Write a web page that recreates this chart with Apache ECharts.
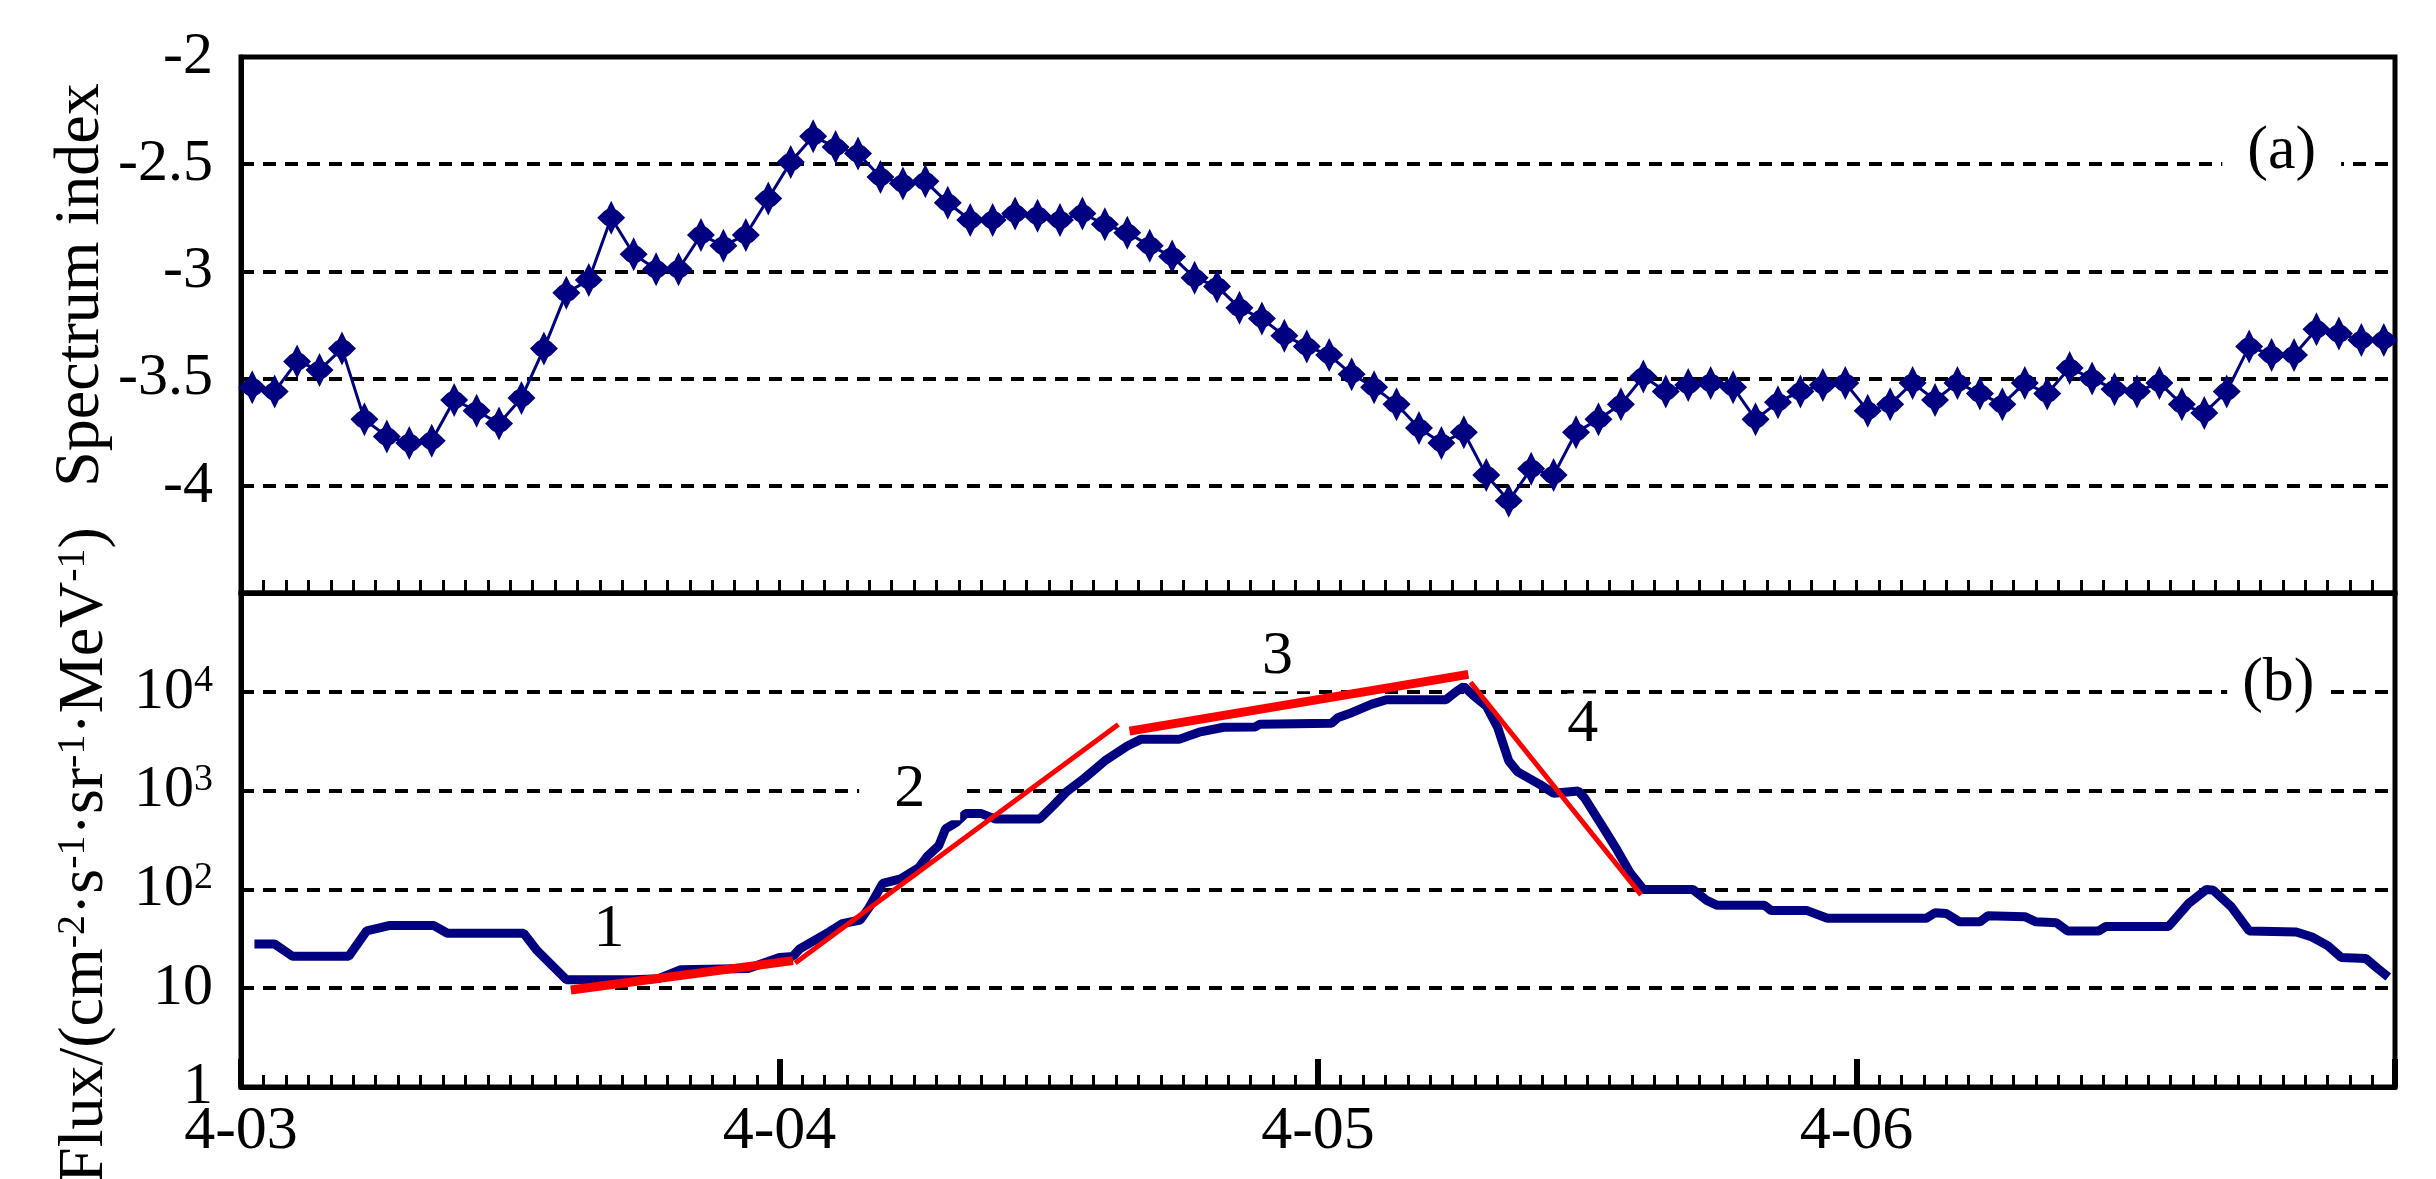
<!DOCTYPE html>
<html><head><meta charset="utf-8">
<script src="https://cdn.jsdelivr.net/npm/echarts@6/dist/echarts.min.js"></script>
<style>html,body{margin:0;padding:0;background:#fff}#c{width:2436px;height:1179px}</style>
</head><body><div id="c"></div><script>
// ---- data ----
const dayLabels = ['4-03', '4-04', '4-05', '4-06'];
const spectrumHours = [0.5,1.5,2.5,3.5,4.5,5.5,6.5,7.5,8.5,9.5,10.5,11.5,12.5,13.5,14.5,15.5,16.5,17.5,18.5,19.5,
  20.5,21.5,22.5,23.5,24.5,25.5,26.5,27.5,28.5,29.5,30.5,31.5,32.5,33.5,34.5,35.5,36.5,37.5,38.5,39.5,
  40.5,41.5,42.5,43.5,44.5,45.5,46.5,47.5,48.5,49.5,50.5,51.5,52.5,53.5,54.5,55.5,56.5,57.5,58.5,59.5,
  60.5,61.5,62.5,63.5,64.5,65.5,66.5,67.5,68.5,69.5,70.5,71.5,72.5,73.5,74.5,75.5,76.5,77.5,78.5,79.5,
  80.5,81.5,82.5,83.5,84.5,85.5,86.5,87.5,88.5,89.5,90.5,91.5,92.5,93.5,94.5,95.5];
const spectrumIndex = [-3.54,-3.56,-3.42,-3.46,-3.36,-3.69,-3.77,-3.80,-3.79,-3.60,
  -3.65,-3.71,-3.59,-3.36,-3.10,-3.04,-2.75,-2.92,-2.99,-2.99,
  -2.83,-2.88,-2.83,-2.66,-2.49,-2.37,-2.42,-2.45,-2.56,-2.59,
  -2.58,-2.68,-2.76,-2.76,-2.73,-2.74,-2.76,-2.73,-2.78,-2.82,
  -2.88,-2.93,-3.03,-3.07,-3.17,-3.22,-3.30,-3.35,-3.39,-3.48,
  -3.54,-3.62,-3.73,-3.80,-3.75,-3.95,-4.07,-3.92,-3.95,-3.75,
  -3.69,-3.62,-3.49,-3.56,-3.53,-3.52,-3.54,-3.69,-3.61,-3.56,
  -3.53,-3.52,-3.65,-3.62,-3.52,-3.60,-3.52,-3.57,-3.62,-3.52,
  -3.57,-3.45,-3.50,-3.55,-3.56,-3.52,-3.62,-3.66,-3.56,-3.35,
  -3.39,-3.39,-3.27,-3.29,-3.32,-3.32];
// flux trace: [hour since 4-03 00:00, flux]
const fluxPoints = [[0.6,28],[1.5,28],[2.3,21],[4.8,21],[5.6,38],[6.6,43],[8.6,43],[9.2,36],[12.6,36],[13.2,24],
  [14.5,12.2],[17.5,12.2],[18.6,12.5],[19.6,15.4],[22.6,15.8],[24.0,20.5],[24.6,21],[24.9,25],[25.5,30],[26.2,37],
  [26.8,45],[27.6,49],[28.0,66],[28.6,115],[29.4,128],[30.2,165],[30.6,218],[31.1,277],[31.4,410],[31.9,480],
  [32.3,585],[33.0,585],[33.6,517],[35.6,517],[36.2,705],[36.8,975],[37.6,1340],[38.5,2000],[39.5,2830],[40.1,3300],
  [41.8,3300],[42.7,3900],[43.8,4380],[45.2,4400],[45.4,4700],[48.6,4800],[48.9,5500],[49.5,6150],[50.4,7500],[51.05,8300],
  [53.7,8300],[54.15,10000],[54.5,11300],[54.9,9300],[55.5,7200],[56.0,4400],[56.5,2000],[56.9,1550],[57.9,1150],[58.5,940],
  [59.6,990],[59.9,830],[60.65,445],[61.3,257],[61.9,148],[62.5,100],[64.7,100],[65.3,78],[65.8,69],[67.9,69],
  [68.2,61],[69.8,61],[70.7,51],[75.1,51],[75.5,58],[76.0,57],[76.6,47],[77.5,47],[77.85,54],[79.5,53],
  [80.0,47],[80.9,46],[81.4,38],[82.8,38],[83.1,42],[85.9,42],[86.8,72],[87.6,100],[87.9,98],[88.7,67],
  [89.5,38],[91.6,37],[92.3,33],[93.0,27],[93.6,20.5],[94.7,20],[95.2,16],[95.7,13]];
// fitted segments (red)
const fit1 = [[14.7, 9.6], [24.6, 19]];
const fit2 = [[24.7, 18], [39.1, 4670]];
const fit3 = [[39.6, 4000], [54.7, 15000]];
const fit4 = [[54.8, 12500], [62.4, 88]];
// annotations (data coordinates)
const phaseLabels = [[16.4, 39, '1'], [29.8, 1030, '2'], [46.2, 22400, '3'], [59.8, 4680, '4'], [90.8, 12000, '(b)']];
const phasePad = [[0, 0], [0, 35], [0, 22, 6, 22], [0, 0], [0, 15]];
const panelALabel = [[90.95, -2.444, '(a)']];

// ---- chart ----
const FONT = 'Liberation Serif';
const NAVY = '#000080';
const RED = '#ff0000';
const chart = echarts.init(document.getElementById('c'));
const dash = { color: '#000', width: 4, type: [13, 9] };
const sym = 'path://M10,0 L13,5 L15,6 L20,10 L15,14 L13,15 L10,20 L7,15 L5,14 L0,10 L5,6 L7,5 Z';

function fitSeries(d, w) {
  return { type: 'line', xAxisIndex: 1, yAxisIndex: 1, data: d, symbol: 'none',
    lineStyle: { color: RED, width: w, cap: 'butt' }, z: 4 };
}

chart.setOption({
  backgroundColor: '#fff',
  animation: false,
  textStyle: { fontFamily: FONT },
  grid: [
    { left: 241, right: 41, top: 57, height: 536, show: true, borderColor: '#000', borderWidth: 5 },
    { left: 241, right: 41, top: 593, height: 494, show: true, borderColor: '#000', borderWidth: 5 }
  ],
  xAxis: [
    { gridIndex: 0, type: 'value', min: 0, max: 96, interval: 24,
      axisLine: { show: true, lineStyle: { color: '#000', width: 5 } },
      axisTick: { show: true, inside: true, length: 13, lineStyle: { color: '#000', width: 3 } },
      minorTick: { show: true, splitNumber: 24, length: 13, lineStyle: { color: '#000', width: 3 } },
      axisLabel: { show: false }, splitLine: { show: false } },
    { gridIndex: 1, type: 'value', min: 0, max: 96, interval: 24,
      axisLine: { show: true, lineStyle: { color: '#000', width: 5 } },
      axisTick: { show: true, inside: true, length: 28, lineStyle: { color: '#000', width: 6 } },
      minorTick: { show: true, splitNumber: 24, length: 12, lineStyle: { color: '#000', width: 3 } },
      axisLabel: { show: true, margin: 14, fontSize: 62, fontFamily: FONT, color: '#000',
        formatter: v => dayLabels[Math.round(v / 24)] || '' },
      splitLine: { show: false } }
  ],
  yAxis: [
    { gridIndex: 0, type: 'value', min: -4.5, max: -2, interval: 0.5,
      axisLine: { show: true, lineStyle: { color: '#000', width: 5 } },
      axisTick: { show: false },
      axisLabel: { margin: 28, fontSize: 60, fontFamily: FONT, color: '#000',
        formatter: v => (v < -4.49 ? '' : String(v)) },
      splitLine: { show: true, lineStyle: dash } },
    { gridIndex: 1, type: 'log', logBase: 10, min: 1, max: 100000,
      axisLine: { show: true, lineStyle: { color: '#000', width: 5 } },
      axisTick: { show: false },
      axisLabel: { margin: 28, color: '#000',
        formatter: v => {
          const e = Math.round(Math.log10(v));
          if (e === 0) return '{b|1}';
          if (e === 1) return '{b|10}';
          if (e >= 5) return '';
          return '{b|10}{s|' + e + '}';
        },
        rich: {
          b: { fontSize: 60, fontFamily: FONT, color: '#000' },
          s: { fontSize: 38, fontFamily: FONT, color: '#000', verticalAlign: 'top' }
        } },
      splitLine: { show: true, lineStyle: dash } }
  ],
  series: [
    { type: 'line', xAxisIndex: 0, yAxisIndex: 0,
      data: spectrumHours.map((h, i) => [h, spectrumIndex[i]]),
      symbol: sym, symbolSize: [28, 34], showAllSymbol: true,
      itemStyle: { color: NAVY }, lineStyle: { color: NAVY, width: 3 }, z: 3 },
    { type: 'line', xAxisIndex: 1, yAxisIndex: 1, data: fluxPoints, symbol: 'none',
      lineStyle: { color: NAVY, width: 9 }, z: 3 },
    fitSeries(fit1, 9), fitSeries(fit2, 5), fitSeries(fit3, 9), fitSeries(fit4, 5)
  ]
});

// text annotations placed at data coordinates
const labelGraphics = [];
phaseLabels.forEach((d, i) => {
  const p = chart.convertToPixel({ gridIndex: 1 }, [d[0], d[1]]);
  labelGraphics.push({ type: 'text', x: p[0], y: p[1], z: 50,
    style: { text: d[2], fontSize: 62, fontFamily: FONT, fill: '#000', align: 'center', verticalAlign: 'middle',
      backgroundColor: '#fff', padding: phasePad[i] } });
});
panelALabel.forEach(d => {
  const p = chart.convertToPixel({ gridIndex: 0 }, [d[0], d[1]]);
  labelGraphics.push({ type: 'text', x: p[0], y: p[1], z: 50,
    style: { text: d[2], fontSize: 62, fontFamily: FONT, fill: '#000', align: 'center', verticalAlign: 'middle',
      backgroundColor: '#fff', padding: [0, 25] } });
});
labelGraphics.push(
  { type: 'text', x: 81, y: 285, rotation: Math.PI / 2,
    style: { text: 'Spectrum index', fontSize: 64, fontFamily: FONT, fill: '#000', align: 'center', verticalAlign: 'middle' } },
  { type: 'text', x: 85, y: 855, rotation: Math.PI / 2,
    style: { text: 'Flux/(cm{s|-2}·s{s|-1}·sr{s|-1}·MeV{s|-1})', fontSize: 64, fontFamily: FONT, fill: '#000',
      align: 'center', verticalAlign: 'middle',
      rich: { s: { fontSize: 40, fontFamily: FONT, fill: '#000', verticalAlign: 'top' } } } }
);
chart.setOption({ graphic: labelGraphics });
</script></body></html>
